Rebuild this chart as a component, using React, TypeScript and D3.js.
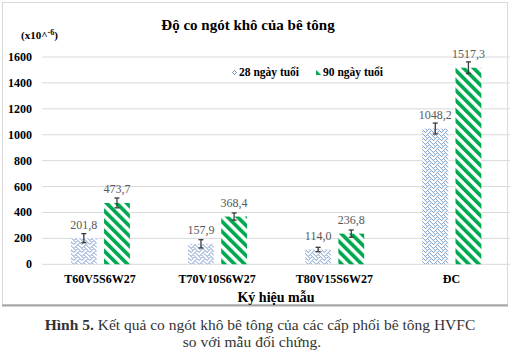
import * as d3 from "d3";

const categories = ["T60V5S6W27", "T70V10S6W27", "T80V15S6W27", "ĐC"];
const seriesNames = ["28 ngày tuổi", "90 ngày tuổi"];
const values28 = [201.8, 157.9, 114.0, 1048.2];
const values90 = [473.7, 368.4, 236.8, 1517.3];
const errors28 = [35, 32, 17, 42];
const errors90 = [38, 28, 28, 45];
const yTicks = [0, 200, 400, 600, 800, 1000, 1200, 1400, 1600];

// excel "weave" hatch, 8x8 bits
const weaveRows = [0x88, 0x54, 0x22, 0x45, 0x88, 0x14, 0x22, 0x51];

const width = 512;
const height = 363;
const margin = { top: 57, left: 41.4, right: 2, bottom: 98.7 };
const serif = "Liberation Serif, DejaVu Serif, serif";

const App = () => {
  const x0 = d3
    .scaleBand<string>()
    .domain(categories)
    .range([margin.left, width - margin.right]);
  const x1 = d3
    .scaleBand<string>()
    .domain(seriesNames)
    .range([29.5, 88.5])
    .paddingInner(0.22);
  const y = d3
    .scaleLinear()
    .domain([0, 1600])
    .range([height - margin.bottom, margin.top]);

  const fmt = (v: number) => d3.format(".1f")(v).replace(".", ",");
  const fills = ["url(#weave)", "url(#stripes)"];
  const rows = categories.map((c, i) => ({
    c,
    vals: [values28[i], values90[i]],
    errs: [errors28[i], errors90[i]],
  }));

  const weaveCells: [number, number][] = [];
  weaveRows.forEach((bits, r) => {
    for (let b = 0; b < 8; b++) {
      if (bits & (0x80 >> b)) weaveCells.push([b, r]);
    }
  });

  return (
    <div style={{ position: "fixed", left: 0, top: 0 }}>
      <svg width={width} height={height} style={{ display: "block", background: "#fff" }}>
        <defs>
          <pattern id="weave" width={8} height={8} patternUnits="userSpaceOnUse">
            <rect width={8} height={8} fill="#fff" />
            {weaveCells.map(([cx, cy], k) => (
              <rect key={k} x={cx} y={cy} width={1} height={1} fill="#7b9bcc" shapeRendering="crispEdges" />
            ))}
          </pattern>
          <pattern
            id="stripes"
            width={7.1}
            height={7.1}
            patternUnits="userSpaceOnUse"
            patternTransform="rotate(-45)"
          >
            <rect width={7.1} height={7.1} fill="#fff" />
            <rect width={3.7} height={7.1} fill="#00a84f" />
          </pattern>
        </defs>

        {/* chart frame */}
        <rect x={2.5} y={2.5} width={505} height={302} fill="none" stroke="#d9d9d9" />
        <line x1={2} x2={508} y1={305.5} y2={305.5} stroke="#a6a6a6" strokeWidth={2} />

        <text x={248} y={30} textAnchor="middle" fontFamily={serif} fontWeight="bold" fontSize={15} fill="#000">
          Độ co ngót khô của bê tông
        </text>
        <text x={21} y={39} fontFamily={serif} fontWeight="bold" fontSize={11} fill="#000">
          (x10^<tspan dy={-4} fontSize={8}>-6</tspan><tspan dy={4}>)</tspan>
        </text>

        {/* grid + y ticks */}
        {yTicks.map((t) => (
          <g key={t}>
            <line x1={42} x2={510} y1={y(t)} y2={y(t)} stroke="#d9d9d9" strokeWidth={1} />
            <text x={32} y={y(t) + 4} textAnchor="end" fontFamily={serif} fontWeight="bold" fontSize={12} fill="#000">
              {t}
            </text>
          </g>
        ))}

        {/* legend */}
        {seriesNames.map((s, i) => {
          const lx = i === 0 ? 232 : 316;
          return (
            <g key={s}>
              <rect x={lx} y={70} width={5} height={5} fill={fills[i]} />
              <text x={lx + 7} y={76} fontFamily={serif} fontWeight="bold" fontSize={11.5} fill="#000">
                {s}
              </text>
            </g>
          );
        })}

        {/* bars */}
        {rows.map((r) => (
          <g key={r.c} transform={`translate(${x0(r.c)},0)`}>
            {seriesNames.map((s, i) => {
              const bx = x1(s)!;
              const bw = x1.bandwidth();
              const v = r.vals[i];
              const e = r.errs[i];
              const cx = bx + bw / 2;
              return (
                <g key={s}>
                  <rect x={bx} y={y(v)} width={bw} height={y(0) - y(v)} fill={fills[i]} />
                  <line x1={cx} x2={cx} y1={y(v + e)} y2={y(v - e)} stroke="#3a3a3a" strokeWidth={1.3} />
                  <line x1={cx - 2.5} x2={cx + 2.5} y1={y(v + e)} y2={y(v + e)} stroke="#3a3a3a" strokeWidth={1.3} />
                  <line x1={cx - 2.5} x2={cx + 2.5} y1={y(v - e)} y2={y(v - e)} stroke="#3a3a3a" strokeWidth={1.3} />
                  <text x={cx} y={y(v) - 9.5} textAnchor="middle" fontFamily={serif} fontSize={12} fill="#595959">
                    {fmt(v)}
                  </text>
                </g>
              );
            })}
          </g>
        ))}

        {/* x labels */}
        {categories.map((c) => (
          <text
            key={c}
            x={x0(c)! + 58.6}
            y={283}
            textAnchor="middle"
            fontFamily={serif}
            fontWeight="bold"
            fontSize={12}
            fill="#000"
          >
            {c}
          </text>
        ))}
        <text x={276} y={302} textAnchor="middle" fontFamily={serif} fontWeight="bold" fontSize={14} fill="#000">
          Ký hiệu mẫu
        </text>

        {/* caption */}
        <text x={260} y={330} textAnchor="middle" fontFamily={serif} fontSize={15.5} fill="#333">
          <tspan fontWeight="bold">Hình 5.</tspan> Kết quả co ngót khô bê tông của các cấp phối bê tông HVFC
        </text>
        <text x={252} y={347} textAnchor="middle" fontFamily={serif} fontSize={15.5} fill="#333">
          so với mẫu đối chứng.
        </text>
      </svg>
    </div>
  );
};

export default App;
